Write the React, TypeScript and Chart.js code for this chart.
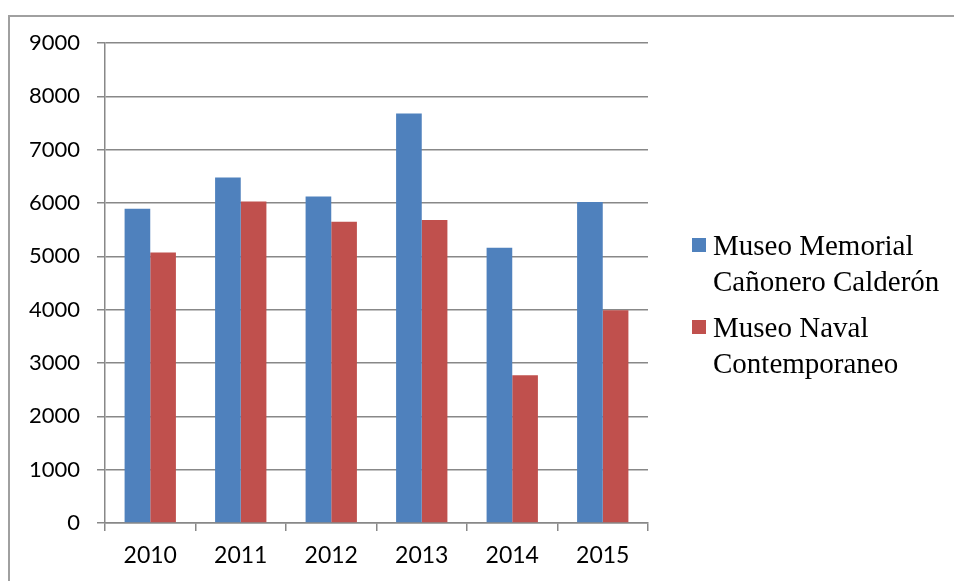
import React, { useEffect, useRef } from "react";
import { Chart, registerables } from "chart.js";

Chart.register(...registerables);

const categories = ["2010", "2011", "2012", "2013", "2014", "2015"];
const memorialValues = [5890, 6480, 6120, 7680, 5160, 6020];
const navalValues = [5070, 6030, 5650, 5680, 2770, 3990];
const memorialLegend = ["Museo Memorial", "Cañonero Calderón"];
const navalLegend = ["Museo Naval", "Contemporaneo"];
const yMax = 9000;
const yStep = 1000;

const BLUE = "#4F81BD";
const RED = "#C0504D";
const GRID = "#888888";

const legendPlugin = {
  id: "customLegend",
  afterDraw(chart: any) {
    const ctx = chart.ctx;
    const entries = [
      { lines: memorialLegend, color: BLUE, top: 255 },
      { lines: navalLegend, color: RED, top: 337 },
    ];
    ctx.save();
    ctx.font = '29px "Liberation Serif", "Times New Roman", serif';
    ctx.textBaseline = "alphabetic";
    ctx.textAlign = "left";
    entries.forEach((e) => {
      ctx.fillStyle = e.color;
      ctx.fillRect(692, e.top - 17, 14, 14);
      ctx.fillStyle = "#000";
      e.lines.forEach((line: string, i: number) => {
        ctx.fillText(line, 713, e.top + i * 35.5);
      });
    });
    ctx.restore();
  },
};

export default function App() {
  const ref = useRef<HTMLCanvasElement>(null);
  useEffect(() => {
    if (!ref.current) return;
    const chart = new Chart(ref.current, {
      type: "bar",
      data: {
        labels: categories,
        datasets: [
          {
            label: memorialLegend.join(" "),
            data: memorialValues,
            backgroundColor: BLUE,
            borderWidth: 0,
            barPercentage: 1,
            categoryPercentage: 0.567,
          },
          {
            label: navalLegend.join(" "),
            data: navalValues,
            backgroundColor: RED,
            borderWidth: 0,
            barPercentage: 1,
            categoryPercentage: 0.567,
          },
        ],
      },
      options: {
        animation: false,
        responsive: false,
        devicePixelRatio: 1,
        layout: { padding: { left: 0, right: 306, top: 43, bottom: 0 } },
        plugins: {
          legend: { display: false },
          tooltip: { enabled: false },
        },
        scales: {
          x: {
            grid: {
              offset: true,
              drawOnChartArea: false,
              drawTicks: true,
              tickLength: 8,
              color: GRID,
              lineWidth: 1.5,
            },
            border: { display: true, color: GRID, width: 1.5 },
            ticks: {
              color: "#000",
              font: { family: "Lato", size: 23 },
              padding: 11,
            },
            afterFit: (s: any) => {
              s.height = 58;
            },
          },
          y: {
            min: 0,
            max: yMax,
            ticks: {
              stepSize: yStep,
              color: "#000",
              font: { family: "Lato", size: 22 },
              padding: 17,
              callback: (v: any) => String(v),
            },
            grid: { color: GRID, lineWidth: 1.5, tickLength: 8 },
            border: { display: true, color: GRID, width: 1.5 },
            afterFit: (s: any) => {
              s.width = 105;
            },
          },
        },
      },
      plugins: [legendPlugin],
    });
    return () => chart.destroy();
  }, []);

  return (
    <div
      style={{
        position: "fixed",
        left: 0,
        top: 0,
        width: 954,
        height: 581,
        overflow: "hidden",
        background: "#fff",
      }}
    >
      <div
        style={{
          position: "absolute",
          left: 8,
          top: 15,
          width: 1000,
          height: 1000,
          borderTop: "2px solid #a0a0a0",
          borderLeft: "2px solid #a0a0a0",
        }}
      />
      <canvas
        ref={ref}
        width={954}
        height={581}
        style={{ position: "absolute", left: 0, top: 0, display: "block" }}
      />
    </div>
  );
}
